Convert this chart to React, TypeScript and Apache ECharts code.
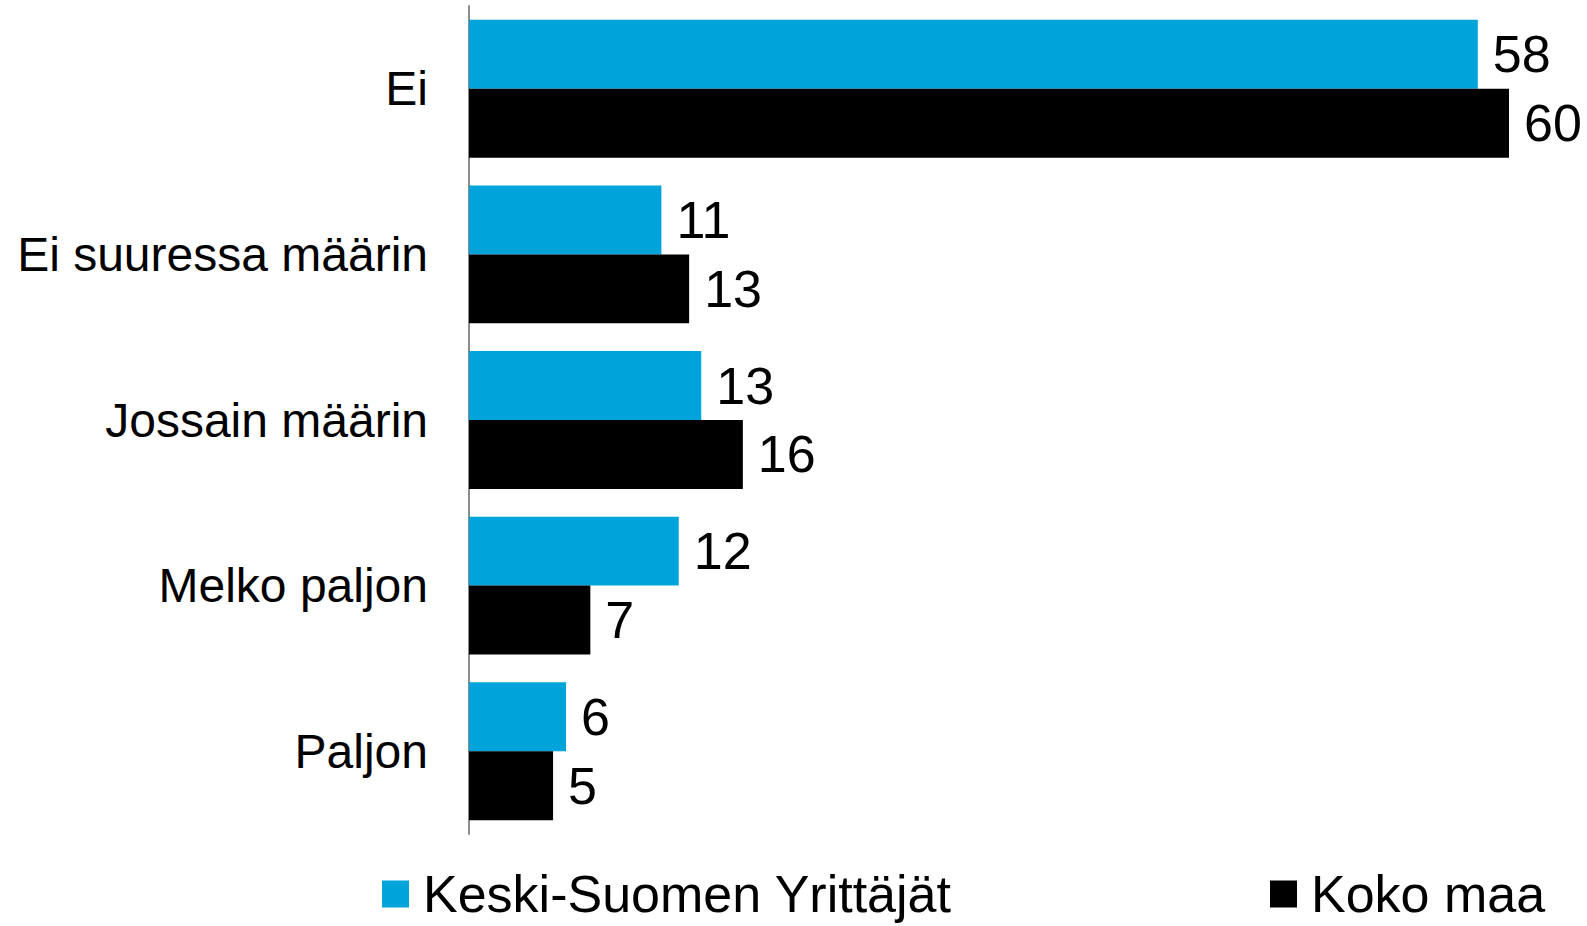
import React, { useEffect, useRef } from "react";
import * as echarts from "echarts";

const categories = ["Ei", "Ei suuressa määrin", "Jossain määrin", "Melko paljon", "Paljon"];
const seriesNames = ["Keski-Suomen Yrittäjät", "Koko maa"];
const keskiSuomi = [58.2, 11.1, 13.4, 12.1, 5.6];
const kokoMaa = [60, 12.7, 15.8, 7.0, 4.85];
const colors = ["#00A3DA", "#000000"];

const FONT = "'Liberation Sans', Arial, Helvetica, sans-serif";

export default function App() {
  const ref = useRef<HTMLDivElement>(null);
  useEffect(() => {
    document.body.style.margin = "0";
    const chart = echarts.init(ref.current!, null, { renderer: "svg" });
    const labelCfg = {
      show: true,
      position: "right" as const,
      distance: 15,
      fontSize: 52,
      fontFamily: FONT,
      color: "#000",
      formatter: (p: any) => String(Math.round(p.value)),
    };
    const legendBase = {
      orient: "horizontal" as const,
      icon: "rect",
      itemWidth: 27,
      itemHeight: 27,
      top: 868,
      padding: 0,
      textStyle: {
        fontSize: 52,
        fontFamily: FONT,
        color: "#000",
        lineHeight: 48,
        padding: [0, 0, 0, 9],
      },
    };
    chart.setOption({
      animation: false,
      backgroundColor: "#fff",
      grid: { left: 469, right: 78, top: 6, bottom: 92, containLabel: false },
      legend: [
        { ...legendBase, left: 382, data: [seriesNames[0]] },
        { ...legendBase, left: 1270, data: [seriesNames[1]] },
      ],
      xAxis: {
        type: "value",
        min: 0,
        max: 60,
        show: false,
      },
      yAxis: {
        type: "category",
        data: categories,
        inverse: true,
        axisLine: { show: true, lineStyle: { color: "#8c8c8c", width: 2 } },
        axisTick: { show: false },
        axisLabel: {
          fontSize: 48,
          fontFamily: FONT,
          color: "#000",
          margin: 41,
        },
      },
      series: [
        {
          name: seriesNames[0],
          type: "bar",
          data: keskiSuomi,
          itemStyle: { color: colors[0] },
          barGap: "0%",
          barCategoryGap: "16.7%",
          label: labelCfg,
        },
        {
          name: seriesNames[1],
          type: "bar",
          data: kokoMaa,
          itemStyle: { color: colors[1] },
          barGap: "0%",
          barCategoryGap: "16.7%",
          label: labelCfg,
        },
      ],
    });
    return () => chart.dispose();
  }, []);
  return (
    <div
      ref={ref}
      style={{ position: "absolute", left: 0, top: 0, width: 1587, height: 926 }}
    />
  );
}
